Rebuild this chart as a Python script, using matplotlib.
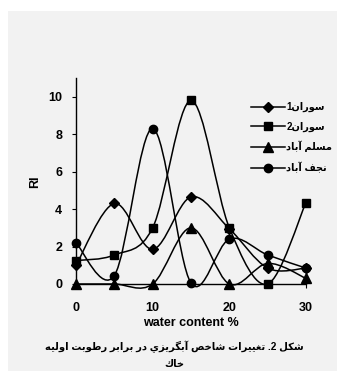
import re
import numpy as np
import matplotlib.pyplot as plt
from matplotlib.path import Path
from matplotlib.patches import PathPatch, Rectangle
from matplotlib.lines import Line2D

# data
water = [0, 5, 10, 15, 20, 25, 30]
souran1 = [1.0, 4.3, 1.85, 4.65, 2.95, 0.85, 0.85]
souran2 = [1.25, 1.55, 3.0, 9.8, 3.0, 0.0, 4.35]
moslem = [0.0, 0.0, 0.0, 3.0, 0.0, 1.1, 0.3]
najaf = [2.2, 0.45, 8.3, 0.05, 2.4, 1.55, 0.85]
names = ['سوران1', 'سوران2', 'مسلم آباد', 'نجف آباد']
markers = ['D', 's', '^', 'o']
msizes = [5.5, 5.5, 6.5, 6]
caption = ['شکل 2. تغییرات شاخص آبگریزي در برابر رطوبت اولیه', 'خاك']

# arabic presentation forms: isolated, final, initial, medial
FORMS = {
    'ا': ('\uFE8D', '\uFE8E', None, None),
    'آ': ('\uFE81', '\uFE82', None, None),
    'ب': ('\uFE8F', '\uFE90', '\uFE91', '\uFE92'),
    'ت': ('\uFE95', '\uFE96', '\uFE97', '\uFE98'),
    'ج': ('\uFE9D', '\uFE9E', '\uFE9F', '\uFEA0'),
    'خ': ('\uFEA5', '\uFEA6', '\uFEA7', '\uFEA8'),
    'د': ('\uFEA9', '\uFEAA', None, None),
    'ر': ('\uFEAD', '\uFEAE', None, None),
    'ز': ('\uFEAF', '\uFEB0', None, None),
    'س': ('\uFEB1', '\uFEB2', '\uFEB3', '\uFEB4'),
    'ش': ('\uFEB5', '\uFEB6', '\uFEB7', '\uFEB8'),
    'ص': ('\uFEB9', '\uFEBA', '\uFEBB', '\uFEBC'),
    'ط': ('\uFEC1', '\uFEC2', '\uFEC3', '\uFEC4'),
    'غ': ('\uFECD', '\uFECE', '\uFECF', '\uFED0'),
    'ف': ('\uFED1', '\uFED2', '\uFED3', '\uFED4'),
    'ك': ('\uFED9', '\uFEDA', '\uFEDB', '\uFEDC'),
    'ل': ('\uFEDD', '\uFEDE', '\uFEDF', '\uFEE0'),
    'م': ('\uFEE1', '\uFEE2', '\uFEE3', '\uFEE4'),
    'ن': ('\uFEE5', '\uFEE6', '\uFEE7', '\uFEE8'),
    'ه': ('\uFEE9', '\uFEEA', '\uFEEB', '\uFEEC'),
    'و': ('\uFEED', '\uFEEE', None, None),
    'ي': ('\uFEF1', '\uFEF2', '\uFEF3', '\uFEF4'),
    'ی': ('\uFBFC', '\uFBFD', '\uFBFE', '\uFBFF'),
    'ک': ('\uFB8E', '\uFB8F', '\uFB90', '\uFB91'),
    'گ': ('\uFB92', '\uFB93', '\uFB94', '\uFB95'),
}


def shape(text):
    # pick joined letter forms, then lay out right-to-left (digits stay in order)
    res = []
    for i, c in enumerate(text):
        if c not in FORMS:
            res.append(c)
            continue
        prev = text[i-1] if i > 0 else None
        nxt = text[i+1] if i + 1 < len(text) else None
        p = prev in FORMS and FORMS[prev][2] is not None
        n = nxt in FORMS and FORMS[c][2] is not None
        iso, fin, ini, med = FORMS[c]
        res.append(med if p and n else fin if p else ini if n else iso)
    tokens = re.findall(r'[0-9]+|.', ''.join(res))
    return ''.join(reversed(tokens))


def smooth_path(x, y):
    # excel-like smoothed line (catmull-rom bezier)
    pts = np.column_stack([x, y]).astype(float)
    n = len(pts)
    verts = [pts[0]]
    codes = [Path.MOVETO]
    for i in range(n - 1):
        p0 = pts[max(i-1, 0)]
        p1 = pts[i]
        p2 = pts[i+1]
        p3 = pts[min(i+2, n-1)]
        verts += [p1 + (p2 - p0)/6, p2 - (p3 - p1)/6, p2]
        codes += [Path.CURVE4]*3
    return Path(verts, codes)


plt.rcParams['font.family'] = ['Liberation Sans', 'DejaVu Sans']
plt.rcParams['font.weight'] = 'bold'

W, H = 337, 371
fig = plt.figure(figsize=(W/100, H/100), dpi=100)
fig.add_artist(Rectangle((8/W, 0), 1 - 8/W, 360/H, transform=fig.transFigure,
                         facecolor='#f2f2f2', edgecolor='none', zorder=0))

ax = fig.add_axes([76/W, 87/H, 230/W, 206/H])
ax.patch.set_visible(False)
ax.set_xlim(0, 30)
ax.set_ylim(0, 11)
for s in ['top', 'right']:
    ax.spines[s].set_visible(False)
for s in ['left', 'bottom']:
    ax.spines[s].set_linewidth(1.0)

series = [souran1, souran2, moslem, najaf]
handles = []
for vals, m, ms, name in zip(series, markers, msizes, names):
    ax.add_patch(PathPatch(smooth_path(water, vals), facecolor='none',
                           edgecolor='k', lw=1.1, clip_on=False, zorder=2))
    ax.plot(water, vals, linestyle='none', marker=m, ms=ms, color='k',
            clip_on=False, zorder=3)
    handles.append(Line2D([], [], color='k', lw=1.1, marker=m, ms=ms,
                          label=shape(name)))

ax.set_xticks([0, 10, 20, 30])
ax.set_yticks([0, 2, 4, 6, 8, 10])
ax.tick_params(axis='both', direction='out', length=3, width=0.8, labelsize=9)
ax.tick_params(axis='y', pad=7)
ax.tick_params(axis='x', pad=10)

fig.text(35/W, 1 - 182/H, 'RI', rotation=90, ha='center', va='center', fontsize=9)
fig.text(191/W, 1 - 323/H, 'water content %', ha='center', va='center', fontsize=9)

fig.legend(handles=handles, loc='upper left', bbox_to_anchor=(251/W, 1 - 102/H),
           frameon=False, borderpad=0, borderaxespad=0, handlelength=3.5,
           handletextpad=0.15, labelspacing=0.95,
           prop={'family': ['Liberation Sans', 'DejaVu Sans'], 'weight': 'bold', 'size': 7})

fig.text(174/W, 1 - 347/H, shape(caption[0]), ha='center', va='center', fontsize=7.2)
fig.text(174/W, 1 - 364/H, shape(caption[1]), ha='center', va='center', fontsize=7.2)

fig.savefig('out.png', dpi=100)
